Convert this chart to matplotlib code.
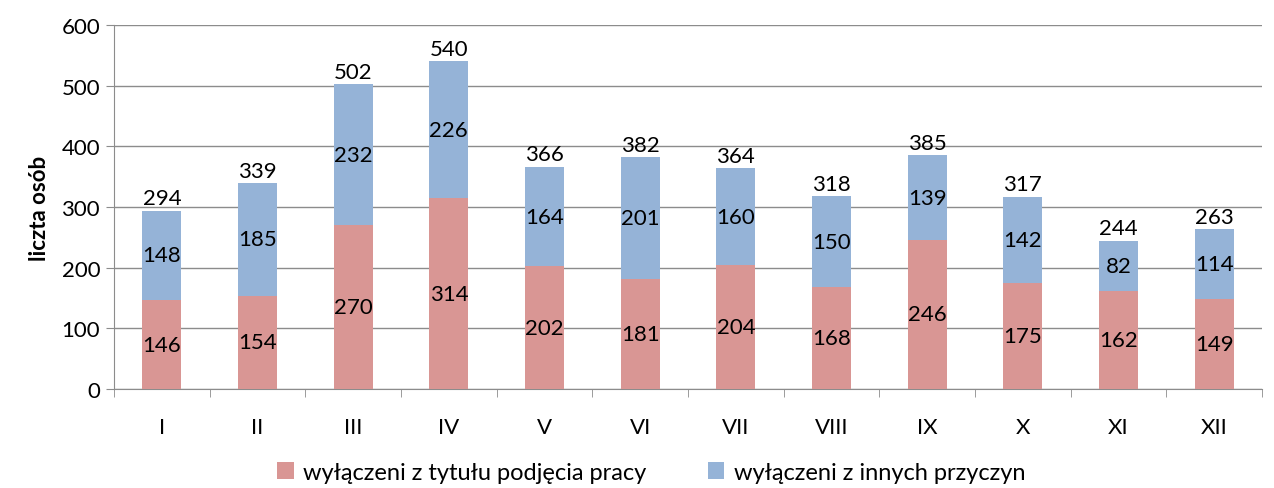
import matplotlib
matplotlib.use("Agg")
import matplotlib.pyplot as plt
import numpy as np

categories = ["I", "II", "III", "IV", "V", "VI", "VII", "VIII", "IX", "X", "XI", "XII"]
praca = [146, 154, 270, 314, 202, 181, 204, 168, 246, 175, 162, 149]
inne = [148, 185, 232, 226, 164, 201, 160, 150, 139, 142, 82, 114]
totals = [294, 339, 502, 540, 366, 382, 364, 318, 385, 317, 244, 263]
series_names = ["wyłączeni z tytułu podjęcia pracy", "wyłączeni z innych przyczyn"]

plt.rcParams['font.family'] = ['Lato', 'DejaVu Sans']

fig = plt.figure(figsize=(12.74, 4.89), dpi=100)
ax = fig.add_axes([0.0895, 0.2025, 0.9011, 0.7445])

x = np.arange(len(categories))
w = 0.41
c1 = "#D99694"
c2 = "#95B3D7"
b1 = ax.bar(x, praca, w, color=c1, label=series_names[0], zorder=3)
b2 = ax.bar(x, inne, w, bottom=praca, color=c2, label=series_names[1], zorder=3)

fs = 16
for i in range(len(categories)):
    ax.text(x[i], praca[i] / 2, str(praca[i]), ha="center", va="center", fontsize=fs, zorder=4)
    ax.text(x[i], praca[i] + inne[i] / 2, str(inne[i]), ha="center", va="center", fontsize=fs, zorder=4)
    ax.text(x[i], totals[i] + 4, str(totals[i]), ha="center", va="bottom", fontsize=fs, zorder=4)

ax.set_xlim(-0.5, len(categories) - 0.5)
ax.set_ylim(0, 600)
ax.set_yticks(range(0, 601, 100))
ax.yaxis.grid(True, color="#8c8c8c", linewidth=1.0, zorder=0)
ax.set_axisbelow(True)

ax.set_xticks(x)
ax.set_xticklabels(categories, fontsize=fs)
ax.set_xticks(np.arange(-0.5, len(categories), 1), minor=True)
ax.tick_params(axis="x", which="major", length=0, pad=20)
ax.tick_params(axis="x", which="minor", length=6, color="#8c8c8c", direction="out")
ax.tick_params(axis="y", length=6, color="#8c8c8c", labelsize=fs, pad=4)

for s in ["top", "right"]:
    ax.spines[s].set_visible(False)
ax.spines["left"].set_color("#8c8c8c")
ax.spines["bottom"].set_color("#8c8c8c")

ax.set_ylabel("liczta osób", fontsize=16, fontweight="bold", labelpad=8)

fig.legend(handles=[b1, b2], labels=series_names, loc="center", bbox_to_anchor=(0.511, 0.032),
           ncol=2, frameon=False, fontsize=17, handlelength=0.7, handleheight=0.7,
           handletextpad=0.4, columnspacing=2.6)

fig.savefig("out.png", dpi=100)
